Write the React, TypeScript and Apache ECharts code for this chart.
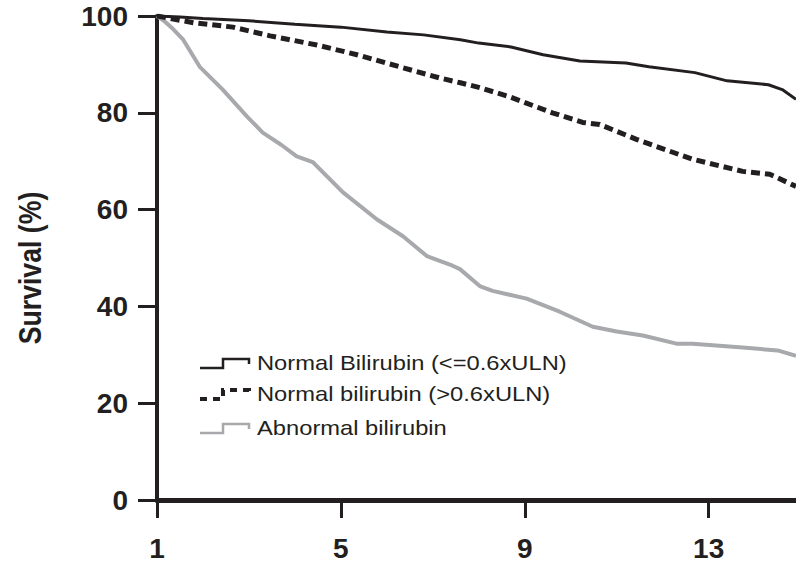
import React, { useEffect, useRef } from "react";
import * as echarts from "echarts";

const xTicks = [1, 5, 9, 13];
const yTicks = [0, 20, 40, 60, 80, 100];

const seriesNames = [
  "Normal Bilirubin (<=0.6xULN)",
  "Normal bilirubin (>0.6xULN)",
  "Abnormal bilirubin",
];

const lowNormalTime = [1, 1.5, 2, 3, 4, 5, 6, 6.8, 7.6, 8, 8.7, 9.4, 10.2, 11.2, 11.7, 12.7, 13.4, 14.3, 14.6, 14.9];
const lowNormalSurv = [100, 99.8, 99.5, 99.0, 98.3, 97.7, 96.7, 96.1, 95.1, 94.4, 93.6, 92.0, 90.7, 90.3, 89.5, 88.3, 86.6, 85.8, 84.8, 82.8];

const highNormalTime = [1, 1.8, 2.65, 3.46, 4.48, 5.35, 6.28, 7.15, 7.6, 8.02, 8.67, 9.6, 10.26, 10.63, 11.43, 12.65, 13.74, 14.33, 14.9];
const highNormalSurv = [100, 98.6, 97.7, 95.9, 94.0, 92.0, 89.5, 87.2, 86.2, 85.2, 83.3, 80.0, 78.0, 77.6, 74.5, 70.4, 67.9, 67.3, 64.8];

const abnormalTime = [1, 1.15, 1.35, 1.57, 1.93, 2.43, 2.96, 3.3, 3.7, 4.04, 4.39, 5.04, 5.78, 6.35, 6.87, 7.43, 7.59, 8.02, 8.3, 9.04, 9.76, 10.48, 11.0, 11.57, 12.3, 12.65, 13.74, 14.5, 14.9];
const abnormalSurv = [100, 99.0, 97.3, 95.1, 89.5, 84.8, 79.2, 75.9, 73.4, 71.0, 69.8, 63.6, 58.0, 54.5, 50.4, 48.4, 47.7, 44.2, 43.2, 41.6, 38.9, 35.8, 34.8, 34.0, 32.3, 32.3, 31.5, 30.9, 29.8];

const INK = "#231f20";
const GRAY = "#a7a9ac";

function zip(t: number[], s: number[]) {
  return t.map((v, i) => [v, s[i]]);
}

export default function App() {
  const ref = useRef<HTMLDivElement>(null);
  useEffect(() => {
    if (!ref.current) return;
    const chart = echarts.init(ref.current, null, { renderer: "svg" });
    const legendRows = [
      { y: 363, color: INK, width: 2.5, dash: null as any },
      { y: 394, color: INK, width: 4, dash: [7, 6] },
      { y: 428, color: GRAY, width: 2.5, dash: null as any },
    ];
    const graphic: any[] = [
      {
        id: "ytitle",
        type: "text",
        x: 30,
        y: 268,
        rotation: Math.PI / 2,
        scaleX: 0.86,
        style: {
          text: "Survival (%)",
          fill: INK,
          font: "bold 31px 'Liberation Sans', Arial, sans-serif",
          textAlign: "center",
          textVerticalAlign: "middle",
        },
      },
    ];
    legendRows.forEach((r, i) => {
      graphic.push({
        id: "legicon" + i,
        type: "polyline",
        shape: {
          points: [
            [200, r.y + 5],
            [223, r.y + 5],
            [223, r.y - 4],
            [249, r.y - 4],
            [249, r.y + 1],
          ],
        },
        style: {
          stroke: r.color,
          lineWidth: r.width,
          fill: null,
          lineDash: r.dash,
        },
      });
      graphic.push({
        id: "legtext" + i,
        type: "text",
        x: 257,
        y: r.y,
        scaleX: 1.13,
        style: {
          text: seriesNames[i],
          fill: INK,
          font: "21px 'Liberation Sans', Arial, sans-serif",
          textAlign: "left",
          textVerticalAlign: "middle",
        },
      });
    });

    chart.setOption({
      animation: false,
      backgroundColor: "#ffffff",
      grid: { left: 157, right: 0, top: 16, bottom: 60, containLabel: false },
      xAxis: {
        type: "value",
        min: 1,
        max: 14.9,
        axisLine: { show: true, onZero: false, lineStyle: { color: INK, width: 5 } },
        axisTick: {
          show: true,
          inside: false,
          customValues: xTicks,
          length: 18,
          lineStyle: { color: INK, width: 3 },
        },
        axisLabel: {
          customValues: xTicks,
          margin: 34,
          color: INK,
          fontSize: 28,
          fontWeight: "bold",
          fontFamily: "'Liberation Sans', Arial, sans-serif",
        },
        splitLine: { show: false },
      },
      yAxis: {
        type: "value",
        min: yTicks[0],
        max: yTicks[yTicks.length - 1],
        interval: 20,
        axisLine: { show: true, onZero: false, lineStyle: { color: INK, width: 4 } },
        axisTick: {
          show: true,
          inside: false,
          length: 19,
          lineStyle: { color: INK, width: 3 },
        },
        axisLabel: {
          margin: 29,
          color: INK,
          fontSize: 28,
          fontWeight: "bold",
          fontFamily: "'Liberation Sans', Arial, sans-serif",
        },
        splitLine: { show: false },
      },
      graphic,
      series: [
        {
          name: seriesNames[2],
          type: "line",
          data: zip(abnormalTime, abnormalSurv),
          showSymbol: false,
          lineStyle: { color: GRAY, width: 4 },
          z: 2,
        },
        {
          name: seriesNames[1],
          type: "line",
          data: zip(highNormalTime, highNormalSurv),
          showSymbol: false,
          lineStyle: { color: INK, width: 5, type: [9, 5] },
          z: 3,
        },
        {
          name: seriesNames[0],
          type: "line",
          data: zip(lowNormalTime, lowNormalSurv),
          showSymbol: false,
          lineStyle: { color: INK, width: 3 },
          z: 4,
        },
      ],
    });

    return () => chart.dispose();
  }, []);
  return (
    <div
      ref={ref}
      style={{ position: "absolute", left: 0, top: 0, width: 796, height: 562 }}
    />
  );
}
